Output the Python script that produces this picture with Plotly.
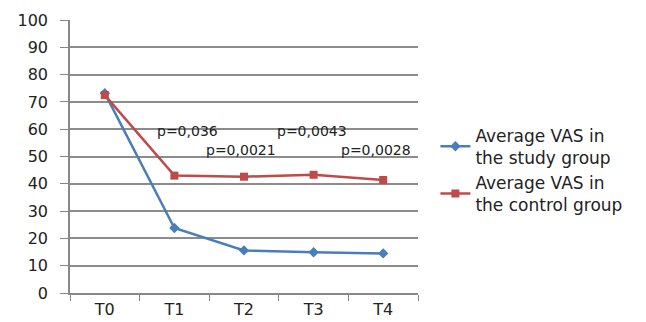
import plotly.graph_objects as go

categories = ["T0", "T1", "T2", "T3", "T4"]
study_vals = [73.2, 23.8, 15.6, 14.9, 14.5]
control_vals = [72.5, 43.0, 42.6, 43.3, 41.4]
study_name = "Average VAS in<br>the study group"
control_name = "Average VAS in<br>the control group"
p_labels = ["p=0,036", "p=0,0021", "p=0,0043", "p=0,0028"]
p_x = [1.19, 1.95, 2.97, 3.9]
p_y = [59.5, 52.3, 59.3, 52.3]
y_ticks = [0, 10, 20, 30, 40, 50, 60, 70, 80, 90, 100]

FONT = "DejaVu Sans"
TXT = "#222222"

fig = go.Figure()
fig.add_trace(go.Scatter(
    x=categories, y=study_vals, name=study_name, mode="lines+markers",
    line=dict(color="#4A7EBB", width=2.5),
    marker=dict(symbol="diamond", size=8, color="#4A7EBB"),
))
fig.add_trace(go.Scatter(
    x=categories, y=control_vals, name=control_name, mode="lines+markers",
    line=dict(color="#BE4B48", width=2.5),
    marker=dict(symbol="square", size=8, color="#BE4B48"),
))

for t, xv, yv in zip(p_labels, p_x, p_y):
    fig.add_annotation(x=xv, y=yv, text=t, showarrow=False, xref="x", yref="y",
                       font=dict(family=FONT, size=14, color=TXT))

fig.update_layout(
    width=646, height=322,
    margin=dict(l=70, r=228, t=20, b=29, autoexpand=False),
    paper_bgcolor="white", plot_bgcolor="white",
    font=dict(family=FONT, color=TXT),
    legend=dict(x=1.05, y=0.45, xanchor="left", yanchor="middle",
                font=dict(family=FONT, size=17, color=TXT),
                tracegroupgap=11, itemwidth=30),
    xaxis=dict(type="category", range=[-0.5, 4.5], tickson="boundaries",
               ticks="outside", ticklen=6, tickcolor="#888888",
               showline=True, linecolor="#888888", linewidth=1.5,
               showgrid=False, automargin=False, ticklabelstandoff=1,
               tickfont=dict(family=FONT, size=16, color=TXT)),
    yaxis=dict(range=[0, 100], tickvals=y_ticks, ticks="outside", ticklen=8,
               tickcolor="#888888", showline=True, linecolor="#888888",
               linewidth=1.5, gridcolor="#8c8c8c", gridwidth=1.5,
               zeroline=False, ticklabelstandoff=9, automargin=False,
               tickfont=dict(family=FONT, size=16, color=TXT)),
    showlegend=True,
)

fig.write_html("out.html")
